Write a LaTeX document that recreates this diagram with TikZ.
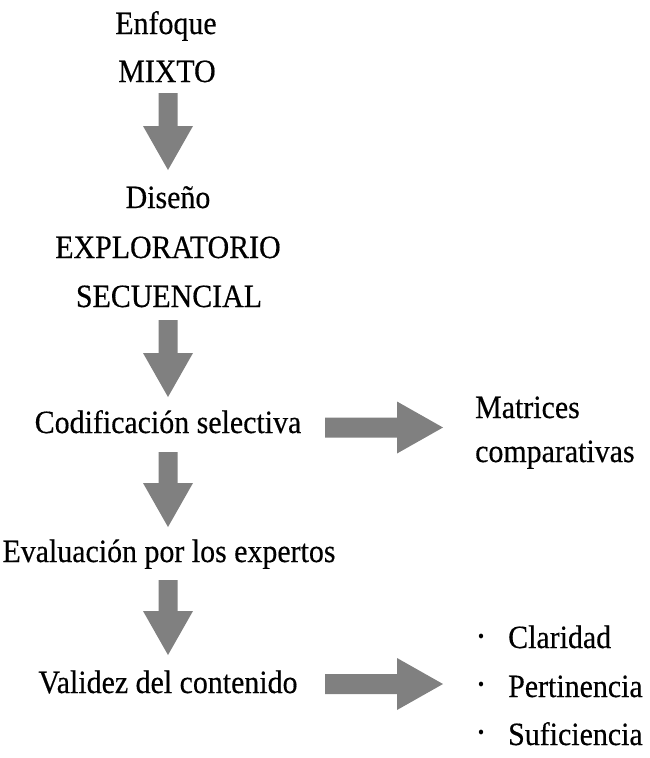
\documentclass[tikz,border=0pt]{standalone}
\usepackage{fontspec}
\setmainfont{Liberation Serif}[FakeStretch=0.92,FakeBold=0.4]
\usetikzlibrary{calc}
\definecolor{arrgray}{RGB}{128,128,128}
\tikzset{
  txt/.style={inner sep=0pt, font=\fontsize{32.5}{38}\selectfont, text=black},
  ctxt/.style={txt, anchor=base},
  ltxt/.style={txt, anchor=base west},
  dot/.style={inner sep=0pt, font=\fontsize{19}{19}\selectfont, anchor=center},
  arr/.style={fill=arrgray, draw=none},
  bdown/.style={to path={let \p1=(\tikztostart), \p2=(\tikztotarget) in
    (\x1-9.5pt,\y1) -- (\x1+9.5pt,\y1) -- (\x1+9.5pt,\y2+44pt) -- (\x1+25pt,\y2+44pt)
    -- (\p2) -- (\x1-25pt,\y2+44pt) -- (\x1-9.5pt,\y2+44pt) -- cycle}},
  bright/.style={to path={let \p1=(\tikztostart), \p2=(\tikztotarget) in
    (\x1,\y1+10pt) -- (\x2-46pt,\y1+10pt) -- (\x2-46pt,\y1+26pt) -- (\p2)
    -- (\x2-46pt,\y1-26pt) -- (\x2-46pt,\y1-10pt) -- (\x1,\y1-10pt) -- cycle}}
}
\begin{document}
\begin{tikzpicture}[x=1pt,y=-1pt]
\useasboundingbox (0,0) rectangle (650,758);
% texts
\node[ctxt] (enf1) at (166,34) {Enfoque};
\node[ctxt] (enf2) at (167,82) {MIXTO};
\node[ctxt] (dis1) at (168,208) {Diseño};
\node[ctxt] (dis2) at (168,258) {EXPLORATORIO};
\node[ctxt] (dis3) at (169,307) {SECUENCIAL};
\node[ctxt] (cod) at (168,433) {Codificación selectiva};
\node[ctxt] (eva) at (169,562) {Evaluación por los expertos};
\node[ctxt] (val) at (168,693) {Validez del contenido};
\node[ltxt] (mat1) at (475,418) {Matrices};
\node[ltxt] (mat2) at (475,462) {comparativas};
\node[dot] (b1) at (481,638) {•};
\node[dot] (b2) at (481,686) {•};
\node[dot] (b3) at (481,734) {•};
\node[ltxt] (cla) at (508,648) {Claridad};
\node[ltxt] (per) at (508,697) {Pertinencia};
\node[ltxt] (suf) at (508,745) {Suficiencia};
% arrow end points
\coordinate (a1s) at (168,93);  \coordinate (a1e) at (168,170);
\coordinate (a2s) at (168,320); \coordinate (a2e) at (168,397);
\coordinate (a3s) at (168,452); \coordinate (a3e) at (168,527);
\coordinate (a4s) at (168,580); \coordinate (a4e) at (168,655);
\coordinate (r1s) at (325,427.5); \coordinate (r1e) at (443,427.5);
\coordinate (r2s) at (325,684);   \coordinate (r2e) at (443,684);
\path[arr] (a1s) to[bdown] (a1e);
\path[arr] (a2s) to[bdown] (a2e);
\path[arr] (a3s) to[bdown] (a3e);
\path[arr] (a4s) to[bdown] (a4e);
\path[arr] (r1s) to[bright] (r1e);
\path[arr] (r2s) to[bright] (r2e);
\end{tikzpicture}
\end{document}
